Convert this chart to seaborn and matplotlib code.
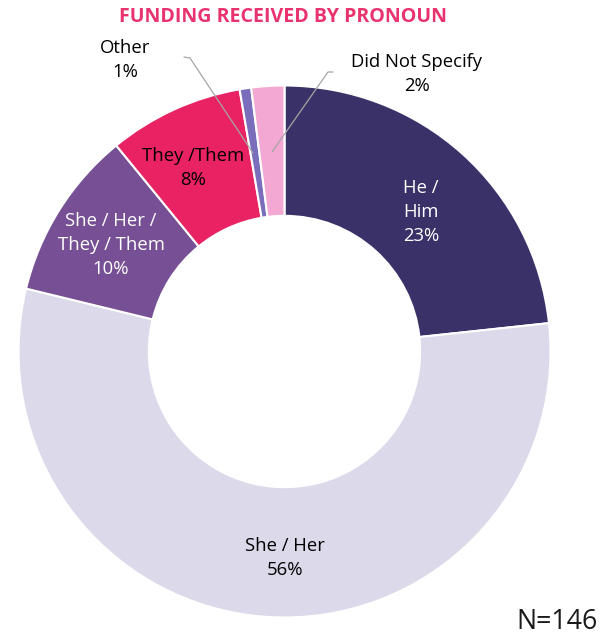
import matplotlib
matplotlib.use("Agg")
import matplotlib.pyplot as plt
import seaborn as sns

categories = ["He /\nHim", "She / Her", "She / Her /\nThey / Them", "They /Them", "Other", "Did Not Specify"]
shares = [23.3, 55.5, 10.3, 8.2, 0.7, 2.0]
pct_labels = ["23%", "56%", "10%", "8%", "1%", "2%"]
colors = ["#3b3169", "#dcdaea", "#774f94", "#e92363", "#7a6dbb", "#f2a8d2"]
label_colors = ["white", "black", "white", "black", "black", "black"]
label_pos = [(0.513, 0.524), (0.0, -0.776), (-0.652, 0.400), (-0.344, 0.690), (-0.600, 1.096), (0.498, 1.043)]

sns.set_theme(style="white")
plt.rcParams["font.family"] = ["Open Sans", "DejaVu Sans"]

W, H = 605, 641
fig = plt.figure(figsize=(W / 100, H / 100), dpi=100)
cx, cy, R = 284.5, 351.5, 266.0
ax = fig.add_axes([(cx - R) / W, (H - cy - R) / H, 2 * R / W, 2 * R / H])
ax.axis("off")

ax.pie(shares, colors=colors, startangle=90, counterclock=False, radius=1.0,
       wedgeprops=dict(width=0.49, edgecolor="white", linewidth=1.5))
ax.set_xlim(-1, 1)
ax.set_ylim(-1, 1)
ax.set_aspect("auto")

for cat, pct, col, (x, y) in zip(categories, pct_labels, label_colors, label_pos):
    ax.text(x, y, f"{cat}\n{pct}", ha="center", va="center", color=col,
            fontsize=13.3, linespacing=1.42, clip_on=False)

def px(p):
    return ((p[0] - cx) / R, (cy - p[1]) / R)

# leader lines
for pts in ([(184, 57), (190, 58), (253, 153)], [(333, 72), (328, 72), (272, 152)]):
    xs, ys = zip(*[px(p) for p in pts])
    ax.plot(xs, ys, color="#a6a6a6", linewidth=0.9, clip_on=False)

fig.text(283 / W, 1 - 17 / H, "FUNDING RECEIVED BY PRONOUN", ha="center", va="center",
         color="#e8336e", fontsize=14.1, fontweight="bold")
fig.text(598 / W, 1 - 622 / H, "N=146", ha="right", va="center", color="#1a1a1a", fontsize=19.3)

fig.savefig("out.png", dpi=100, facecolor="white")
